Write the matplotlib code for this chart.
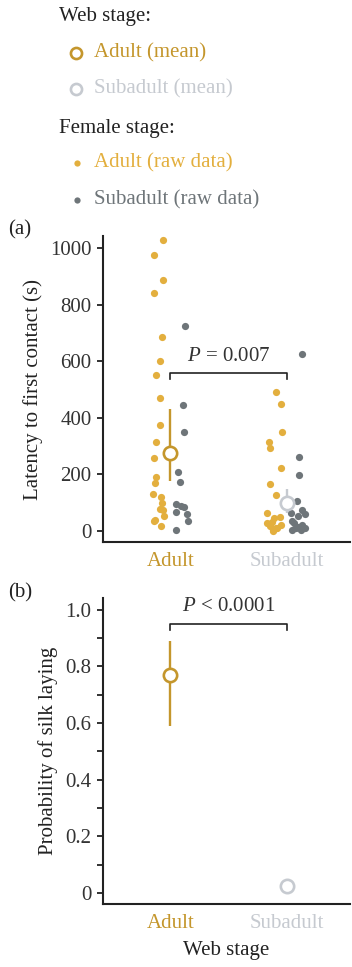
import matplotlib
matplotlib.use('Agg')
import matplotlib.pyplot as plt
import numpy as np

plt.rcParams['font.family'] = ['Liberation Serif', 'DejaVu Serif']
plt.rcParams['mathtext.fontset'] = 'custom'
plt.rcParams['mathtext.it'] = 'Liberation Serif:italic'

# --- data ---
web_stages = ['Adult', 'Subadult']

# latency raw data (s), by web stage and female stage
lat_adultweb_adultfem = [1027, 976, 886, 841, 686, 600, 550, 470, 374, 315, 257, 192,
                         168, 132, 121, 100, 78, 74, 54, 40, 35, 18]
lat_adultweb_subfem = [723, 446, 351, 210, 173, 95, 88, 84, 67, 60, 36, 4]
lat_subweb_adultfem = [490, 448, 351, 316, 294, 223, 165, 126, 65, 51, 45, 33, 27,
                       22, 18, 12, 9, 5, 1]
lat_subweb_subfem = [625, 263, 198, 106, 74, 62, 60, 54, 35, 27, 21, 15, 10, 9, 5, 3]

# horizontal jitter of the raw points (category units)
jit_adultweb_adultfem = [-0.06, -0.14, -0.06, -0.14, -0.07, -0.09, -0.12, -0.09, -0.09, -0.12, -0.14, -0.12,
                         -0.13, -0.15, -0.08, -0.07, -0.09, -0.06, -0.05, -0.13, -0.14, -0.08]
jit_adultweb_subfem = [0.13, 0.11, 0.12, 0.07, 0.08, 0.05, 0.09, 0.12, 0.05, 0.14, 0.15, 0.05]
jit_subweb_adultfem = [-0.09, -0.05, -0.04, -0.15, -0.14, -0.05, -0.14, -0.09, -0.17, -0.06, -0.11, -0.13,
                       -0.17, -0.05, -0.14, -0.09, -0.08, -0.12, -0.12]
jit_subweb_subfem = [0.13, 0.11, 0.11, 0.09, 0.13, 0.04, 0.16, 0.10, 0.05, 0.06, 0.13, 0.10, 0.16, 0.08, 0.05, 0.12]

lat_mean = [275, 100]
lat_lo = [175, 62]
lat_hi = [430, 148]
lat_p = '$P$ = 0.007'

silk_mean = [0.77, 0.025]
silk_lo = [0.59, 0.0]
silk_hi = [0.89, 0.05]
silk_p = '$P$ < 0.0001'

# --- style ---
gold_mean = '#C4962C'
gold_raw = '#E3AF3E'
grey_mean = '#C6CAD0'
grey_raw = '#6E7579'
mean_cols = [gold_mean, grey_mean]
ink = '#222222'
label_col = '#333333'
fs = 15

W, H = 352, 967
fig = plt.figure(figsize=(W / 100, H / 100), dpi=100)


def style_axes(ax):
    for s in ['top', 'right']:
        ax.spines[s].set_visible(False)
    for s in ['left', 'bottom']:
        ax.spines[s].set_linewidth(1.5)
        ax.spines[s].set_color(ink)
    ax.tick_params(axis='y', length=4.3, width=1.3, color=ink, labelsize=fs, labelcolor=label_col, pad=4)
    ax.tick_params(axis='x', length=0, labelsize=fs, pad=7)
    ax.set_xticks(range(len(web_stages)))
    ax.set_xticklabels(web_stages)
    for lab, c in zip(ax.get_xticklabels(), mean_cols):
        lab.set_color(c)
    ax.set_xlim(-0.578, 1.544)


def draw_means(ax, mean, lo, hi):
    for i in range(len(mean)):
        ax.plot([i, i], [lo[i], hi[i]], color=mean_cols[i], lw=1.7, solid_capstyle='butt', zorder=4)
        ax.plot(i, mean[i], 'o', ms=9.6, mfc='white', mec=mean_cols[i], mew=1.9, zorder=5)


def bracket(ax, y, drop, text, ty):
    ax.plot([0, 0, 1, 1], [y - drop, y, y, y - drop], color=ink, lw=1.2, zorder=3)
    ax.text(0.5, ty, text, ha='center', va='center', fontsize=fs, color=label_col)


# panel (a)
ax1 = fig.add_axes([103 / W, 1 - 542 / H, 247 / W, 306 / H])
style_axes(ax1)
ax1.scatter(np.array(jit_adultweb_adultfem), lat_adultweb_adultfem, s=27, color=gold_raw, lw=0, zorder=2)
ax1.scatter(np.array(jit_adultweb_subfem), lat_adultweb_subfem, s=27, color=grey_raw, lw=0, zorder=2)
ax1.scatter(1 + np.array(jit_subweb_adultfem), lat_subweb_adultfem, s=27, color=gold_raw, lw=0, zorder=2)
ax1.scatter(1 + np.array(jit_subweb_subfem), lat_subweb_subfem, s=27, color=grey_raw, lw=0, zorder=2)
draw_means(ax1, lat_mean, lat_lo, lat_hi)
bracket(ax1, 558, 21, lat_p, 617)
ax1.set_ylim(-39, 1042)
ax1.set_yticks([0, 200, 400, 600, 800, 1000])
ax1.set_ylabel('Latency to first contact (s)', fontsize=fs, color=ink, labelpad=5)
fig.text(8 / W, 1 - 230 / H, '(a)', fontsize=fs, color=ink, va='center', ha='left')

# panel (b)
ax2 = fig.add_axes([103 / W, 1 - 904 / H, 247 / W, 306 / H])
style_axes(ax2)
draw_means(ax2, silk_mean, silk_lo, silk_hi)
bracket(ax2, 0.95, 0.023, silk_p, 1.01)
ax2.set_ylim(-0.039, 1.041)
ax2.set_yticks([0, 0.2, 0.4, 0.6, 0.8, 1.0])
ax2.set_yticklabels(['0', '0.2', '0.4', '0.6', '0.8', '1.0'])
ax2.set_yticks(np.arange(0.1, 1.0, 0.2), minor=True)
ax2.tick_params(axis='y', which='minor', length=4.3, width=1.3, color=ink)
ax2.set_ylabel('Probability of silk laying', fontsize=fs, color=ink, labelpad=5)
ax2.set_xlabel('Web stage', fontsize=fs, color=ink, labelpad=6)
fig.text(8 / W, 1 - 593 / H, '(b)', fontsize=fs, color=ink, va='center', ha='left')

# legend drawn in pixel space
leg = fig.add_axes([0, 0, 1, 1])
leg.set_xlim(0, W)
leg.set_ylim(H, 0)
leg.axis('off')
leg.text(59, 17, 'Web stage:', fontsize=fs, color=ink, va='center')
leg.plot(76, 53, 'o', ms=8, mfc='white', mec=gold_mean, mew=1.9)
leg.text(94, 53, 'Adult (mean)', fontsize=fs, color=gold_mean, va='center')
leg.plot(76, 89, 'o', ms=8, mfc='white', mec=grey_mean, mew=1.9)
leg.text(94, 89, 'Subadult (mean)', fontsize=fs, color=grey_mean, va='center')
leg.text(59, 128, 'Female stage:', fontsize=fs, color=ink, va='center')
leg.plot(77, 163, 'o', ms=4.5, color=gold_raw, mew=0)
leg.text(94, 163, 'Adult (raw data)', fontsize=fs, color=gold_raw, va='center')
leg.plot(77, 200, 'o', ms=4.5, color=grey_raw, mew=0)
leg.text(94, 200, 'Subadult (raw data)', fontsize=fs, color=grey_raw, va='center')

fig.savefig('out.png', dpi=100)
